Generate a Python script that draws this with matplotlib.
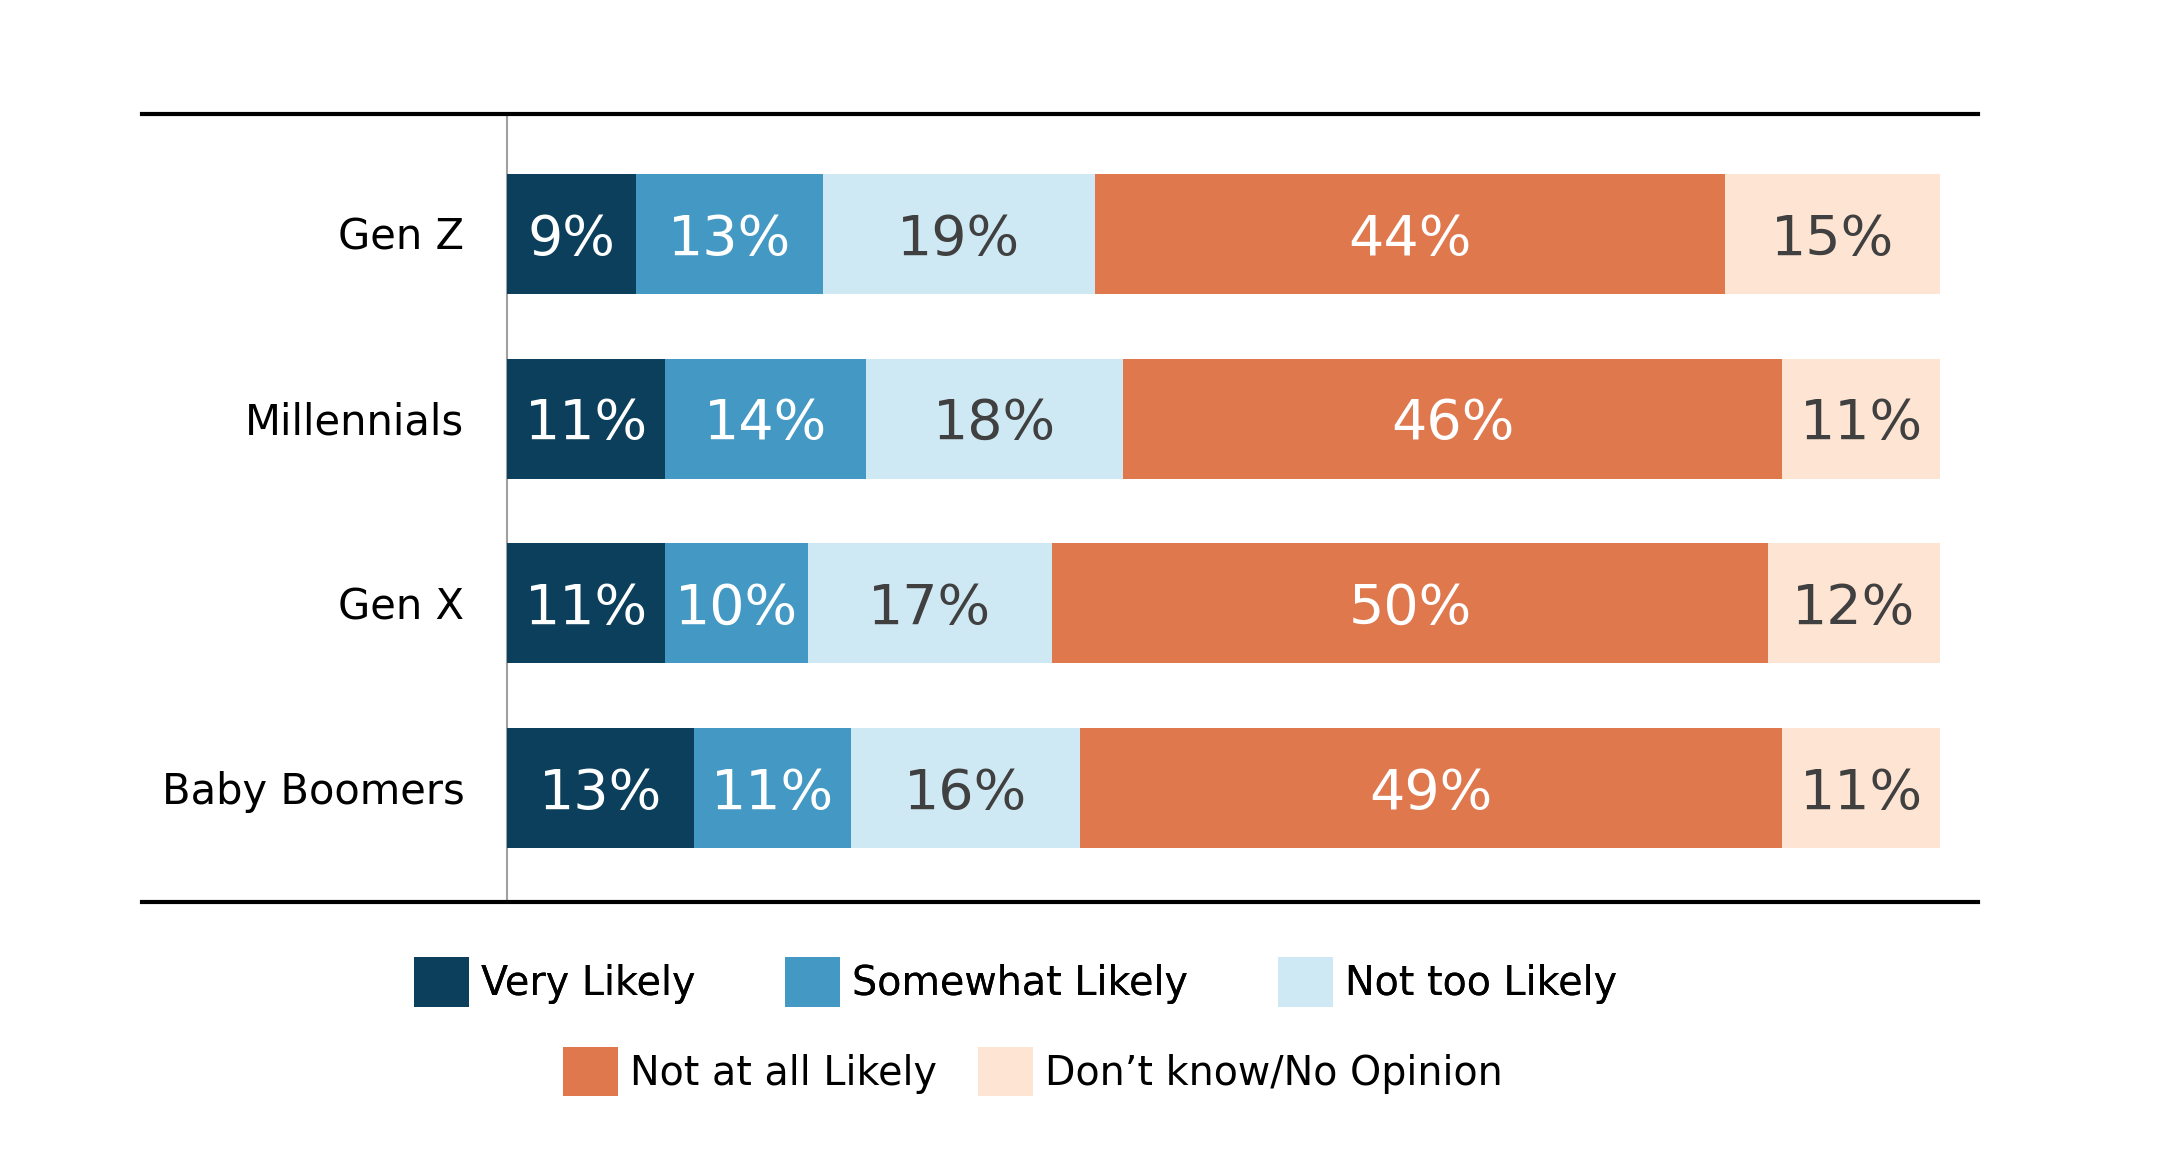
import matplotlib
matplotlib.use("Agg")
import matplotlib.pyplot as plt
import numpy as np

categories = ["Gen Z", "Millennials", "Gen X", "Baby Boomers"]
series_names = ["Very Likely", "Somewhat Likely", "Not too Likely",
                "Not at all Likely", "Don\u2019t know/No Opinion"]
very_likely = [9, 11, 11, 13]
somewhat_likely = [13, 14, 10, 11]
not_too_likely = [19, 18, 17, 16]
not_at_all_likely = [44, 46, 50, 49]
dont_know = [15, 11, 12, 11]

series_values = [very_likely, somewhat_likely, not_too_likely,
                 not_at_all_likely, dont_know]
colors = ["#0B3F5C", "#4399C3", "#CFE9F4", "#E0784E", "#FEE4D2"]
label_colors = ["white", "white", "#404040", "white", "#404040"]

plt.rcParams['font.family'] = ['DejaVu Sans']

W, H = 2158, 1174
fig = plt.figure(figsize=(W / 100, H / 100), dpi=100)
# axes spans the horizontal rules
ax_left, ax_right = 142, 1978
ax_top, ax_bottom = 114, 902
ax = fig.add_axes([ax_left / W, 1 - ax_bottom / H,
                   (ax_right - ax_left) / W, (ax_bottom - ax_top) / H])

y = np.arange(len(categories))
left = np.zeros(len(categories))
handles = []
for vals, col, lcol, name in zip(series_values, colors, label_colors, series_names):
    vals = np.array(vals, dtype=float)
    bars = ax.barh(y, vals, left=left, height=0.65, color=col, label=name,
                   edgecolor='none')
    handles.append(bars)
    for yi, (l, v) in enumerate(zip(left, vals)):
        ax.text(l + v / 2, yi + 0.03, f"{int(v)}%", ha='center', va='center',
                fontsize=40, color=lcol)
    left += vals

ax.set_xlim(-25.5, 102.65)
ax.set_ylim(3.617, -0.65)
ax.axvline(0, color="#A0A0A0", lw=1.5, zorder=0)

for yi, cat in enumerate(categories):
    ax.text(-3.0, yi + 0.02, cat, ha='right', va='center', fontsize=30, color='black')

for s in ['left', 'right']:
    ax.spines[s].set_visible(False)
for s in ['top', 'bottom']:
    ax.spines[s].set_linewidth(3)
    ax.spines[s].set_color('black')
ax.set_xticks([])
ax.set_yticks([])

leg_kw = dict(loc='center', frameon=False, fontsize=28.5, handlelength=1.39,
              handleheight=1.53, handletextpad=0.3, borderpad=0,
              borderaxespad=0)
leg1 = fig.legend(handles[:3], series_names[:3], ncol=3,
                  bbox_to_anchor=(0.4706, 1 - 982 / H), columnspacing=2.27, **leg_kw)
fig.add_artist(leg1)
leg2 = fig.legend(handles[3:], series_names[3:], ncol=2,
                  bbox_to_anchor=(0.4787, 1 - 1071.5 / H), columnspacing=1.05, **leg_kw)

fig.savefig("out.png", dpi=100, facecolor='white')
